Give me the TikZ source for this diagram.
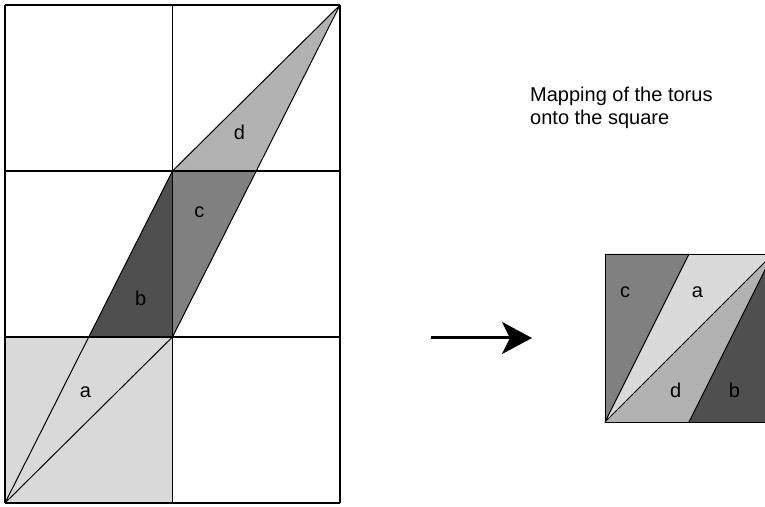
\documentclass[tikz,border=0pt]{standalone}
\usepackage{fontspec}
\setmainfont{Liberation Sans}
\usetikzlibrary{arrows.meta}
\definecolor{pieceA}{gray}{0.85}
\definecolor{pieceB}{gray}{0.31}
\definecolor{pieceC}{gray}{0.50}
\definecolor{pieceD}{gray}{0.70}
\tikzset{
  gridline/.style={line width=1.2pt},
  cutline/.style={line width=1pt, line join=round},
  piecelabel/.style={inner sep=0pt, font=\fontsize{20}{24}\selectfont},
}

\begin{document}
\begin{tikzpicture}[x=1pt,y=1pt]
\useasboundingbox (0,0) rectangle (765,506);
\clip (0,0) rectangle (765,506);
% copies of the torus
\begin{scope}[shift={(5,3)}, x=167.5pt, y=166pt]
\fill[pieceA] (0,0) rectangle (1,1);
\fill[pieceB] (0.5,1) -- (1,1) -- (1,2) -- cycle;
\fill[pieceC] (1,1) -- (1.5,2) -- (1,2) -- cycle;
\fill[pieceD] (1,2) -- (1.5,2) -- (2,3) -- cycle;
\foreach \col in {0,1,2}
  \draw[gridline] (\col,0) -- (\col,3);
\foreach \row in {0,1,2,3}
  \draw[gridline] (0,\row) -- (2,\row);
\draw[cutline] (0,0) -- (1,1) -- (2,3) -- (1,2) -- cycle;
\draw[cutline] (0.5,1) -- (1,1) -- (1,2) -- (1.5,2);
\node[piecelabel] (leftA) at (0.48,0.67) {a};
\node[piecelabel] (leftB) at (0.81,1.23) {b};
\node[piecelabel] (leftC) at (1.16,1.75) {c};
\node[piecelabel] (leftD) at (1.40,2.23) {d};
\end{scope}
% the square
\begin{scope}[shift={(605,84)}, x=168pt, y=168pt]
\fill[pieceC] (0,0) -- (0.5,1) -- (0,1) -- cycle;
\fill[pieceA] (0,0) -- (0.5,1) -- (1,1) -- cycle;
\fill[pieceD] (0,0) -- (1,1) -- (0.5,0) -- cycle;
\fill[pieceB] (0.5,0) -- (1,1) -- (1,0) -- cycle;
\draw[line width=0.8pt] (0,0) rectangle (1,1);
\draw[cutline] (0.5,1) -- (0,0) -- (1,1) -- (0.5,0);
\node[piecelabel] (rightC) at (0.12,0.77) {c};
\node[piecelabel] (rightA) at (0.55,0.77) {a};
\node[piecelabel] (rightD) at (0.42,0.19) {d};
\node[piecelabel] (rightB) at (0.77,0.19) {b};
\end{scope}
% arrow and caption
\coordinate (arrowFrom) at (431,168);
\coordinate (arrowTo) at (532,168);
\draw[line width=3pt, -{Stealth[length=30pt, width=32pt, inset=8pt]}] (arrowFrom) -- (arrowTo);
\node[anchor=base west, inner sep=0pt, font=\fontsize{20}{24}\selectfont] (captionTop) at (530,404)
  {Mapping of the torus};
\node[anchor=base west, inner sep=0pt, font=\fontsize{20}{24}\selectfont] (captionBottom) at (530,381)
  {onto the square};
\end{tikzpicture}
\end{document}
